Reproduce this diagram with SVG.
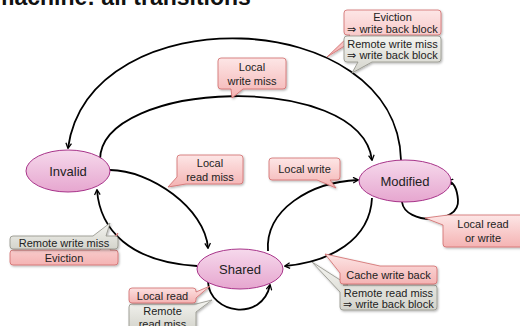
<svg xmlns="http://www.w3.org/2000/svg" width="520" height="326" viewBox="0 0 520 326">
  <defs>
    <linearGradient id="stateFill" x1="0" y1="0" x2="0" y2="1">
      <stop offset="0" stop-color="#f6d9ec"/>
      <stop offset="1" stop-color="#e6a6cf"/>
    </linearGradient>
    <linearGradient id="pinkFill" x1="0" y1="0" x2="0" y2="1">
      <stop offset="0" stop-color="#fde6e6"/>
      <stop offset="1" stop-color="#f4b3b3"/>
    </linearGradient>
    <linearGradient id="grayFill" x1="0" y1="0" x2="0" y2="1">
      <stop offset="0" stop-color="#f4f4f0"/>
      <stop offset="1" stop-color="#d4d4cc"/>
    </linearGradient>
    <filter id="shadow" x="-10%" y="-10%" width="130%" height="140%">
      <feDropShadow dx="1" dy="1.2" stdDeviation="0.8" flood-color="#000" flood-opacity="0.3"/>
    </filter>
    <marker id="arrow" viewBox="0 0 10 10" refX="8" refY="5" markerWidth="7" markerHeight="7" markerUnits="userSpaceOnUse" orient="auto">
      <path d="M1,1 L8.5,5 L1,9" fill="none" stroke="#000" stroke-width="1.8" stroke-linejoin="miter"/>
    </marker>
  </defs>
  <style>
    .title { font-family: "Liberation Sans", Arial, sans-serif; font-weight: bold; font-size: 23px; fill: #111; }
    .state { fill: url(#stateFill); stroke: #a8348a; stroke-width: 1; }
    .slabel { font-family: "Liberation Sans", Arial, sans-serif; font-size: 13px; fill: #222; text-anchor: middle; }
    .edge { fill: none; stroke: #000; stroke-width: 1.8; }
    .pink { fill: url(#pinkFill); stroke: #d06a6a; stroke-width: 0.8; filter: url(#shadow); }
    .gray { fill: url(#grayFill); stroke: #8f8f86; stroke-width: 0.8; filter: url(#shadow); }
    .ctext { font-family: "Liberation Sans", Arial, sans-serif; font-size: 11px; fill: #222; text-anchor: middle; }
  </style>

  <rect width="520" height="326" fill="#fff"/>

  <text class="title" x="-6" y="5">machine: all transitions</text>

  <!-- transitions -->
  <g id="connectors">
    <path class="edge" d="M401,160 C397,5 90,-5 68,148" marker-end="url(#arrow)"/>
    <path class="edge" d="M100,160 C100,80 360,70 372,160" marker-end="url(#arrow)"/>
    <path class="edge" d="M110,170 C150,170 205,208 208,248" marker-end="url(#arrow)"/>
    <path class="edge" d="M197,266 C130,262 100,230 97,190" marker-end="url(#arrow)"/>
    <path class="edge" d="M268,251 C265,210 310,182 358,180" marker-end="url(#arrow)"/>
    <path class="edge" d="M372,198 C370,240 330,262 285,266" marker-end="url(#arrow)"/>
    <path class="edge" d="M402,202 C405,225 460,225 458,200 C457,188 453,182 448,181" marker-end="url(#arrow)"/>
    <path class="edge" d="M208,282 C210,314 262,322 270,285" marker-end="url(#arrow)"/>
  </g>

  <!-- states -->
  <g id="invalid">
    <ellipse class="state" cx="68" cy="171" rx="42" ry="21"/>
    <text class="slabel" x="68" y="175.5">Invalid</text>
  </g>
  <g id="modified">
    <ellipse class="state" cx="405" cy="181" rx="46" ry="21"/>
    <text class="slabel" x="405" y="185.5">Modified</text>
  </g>
  <g id="shared">
    <ellipse class="state" cx="240" cy="269" rx="43" ry="20"/>
    <text class="slabel" x="240" y="273.5">Shared</text>
  </g>

  <!-- edge labels -->
  <g id="label-eviction-mod">
    <path class="pink" d="M347,10 H438 Q441,10 441,13 V32 Q441,35 438,35 H362 L327,57 L350,35 H347 Q344,35 344,32 V13 Q344,10 347,10 Z"/>
    <text class="ctext" x="392.5" y="21">Eviction</text>
    <text class="ctext" x="392.5" y="32.5">⇒ write back block</text>
  </g>
  <g id="label-remote-write-mod">
    <path class="gray" d="M347,36 H438 Q441,36 441,39 V59 Q441,62 438,62 H372 L352,73 L358,62 H347 Q344,62 344,59 V39 Q344,36 347,36 Z"/>
    <text class="ctext" x="392.5" y="47.5">Remote write miss</text>
    <text class="ctext" x="392.5" y="59">⇒ write back block</text>
  </g>
  <g id="label-local-write-miss">
    <path class="pink" d="M221,58 H283 Q286,58 286,61 V86 Q286,89 283,89 H243 L232,98 L231,89 H221 Q218,89 218,86 V61 Q218,58 221,58 Z"/>
    <text class="ctext" x="252" y="71">Local</text>
    <text class="ctext" x="252" y="84.5">write miss</text>
  </g>
  <g id="label-local-read-miss">
    <path class="pink" d="M180,155 H240 Q243,155 243,158 V181 Q243,184 240,184 H186 L168,187 L177,177 V158 Q177,155 180,155 Z"/>
    <text class="ctext" x="210" y="167">Local</text>
    <text class="ctext" x="210" y="180.5">read miss</text>
  </g>
  <g id="label-local-write">
    <path class="pink" d="M272,158 H337 Q340,158 340,161 V177 Q340,180 337,180 H330 L336,188 L317,180 H272 Q269,180 269,177 V161 Q269,158 272,158 Z"/>
    <text class="ctext" x="304.5" y="173">Local write</text>
  </g>
  <g id="label-local-rw">
    <path class="pink" d="M452,215 H526 V247 H446 Q443,247 443,244 V225 L425,218 L448,215 Z"/>
    <text class="ctext" x="483" y="228">Local read</text>
    <text class="ctext" x="483" y="242">or write</text>
  </g>
  <g id="label-eviction-inv">
    <path class="pink" d="M13,250 H100 L118,233 L110,250 H115 Q118,250 118,253 V262 Q118,265 115,265 H13 Q10,265 10,262 V253 Q10,250 13,250 Z"/>
    <text class="ctext" x="64" y="261.5">Eviction</text>
  </g>
  <g id="label-remote-write-inv">
    <path class="gray" d="M13,236 H93 L110,223 L106,236 H115 Q118,236 118,239 V246 Q118,249 115,249 H13 Q10,249 10,246 V239 Q10,236 13,236 Z"/>
    <text class="ctext" x="64" y="246.5">Remote write miss</text>
  </g>
  <g id="label-remote-read-shared">
    <path class="gray" d="M132,304 H196 V304 L212,300 L196,312 V330 H132 Q129,330 129,327 V307 Q129,304 132,304 Z"/>
    <text class="ctext" x="162.5" y="315">Remote</text>
    <text class="ctext" x="162.5" y="328">read miss</text>
  </g>
  <g id="label-local-read">
    <path class="pink" d="M132,288 H193 Q196,288 196,291 V292 L210,286 L196,298 V300 Q196,303 193,303 H132 Q129,303 129,300 V291 Q129,288 132,288 Z"/>
    <text class="ctext" x="162.5" y="299.5">Local read</text>
  </g>
  <g id="label-remote-read-mod">
    <path class="gray" d="M343,285 H434 Q437,285 437,288 V307 Q437,310 434,310 H343 Q340,310 340,307 V292 L312,262 L348,285 Z"/>
    <text class="ctext" x="388.5" y="296.5">Remote read miss</text>
    <text class="ctext" x="388.5" y="308">⇒ write back block</text>
  </g>
  <g id="label-cache-wb">
    <path class="pink" d="M380,266 H434 Q437,266 437,269 V281 Q437,284 434,284 H343 Q340,284 340,281 V273 L325,254 Z"/>
    <text class="ctext" x="388.5" y="279">Cache write back</text>
  </g>
</svg>
